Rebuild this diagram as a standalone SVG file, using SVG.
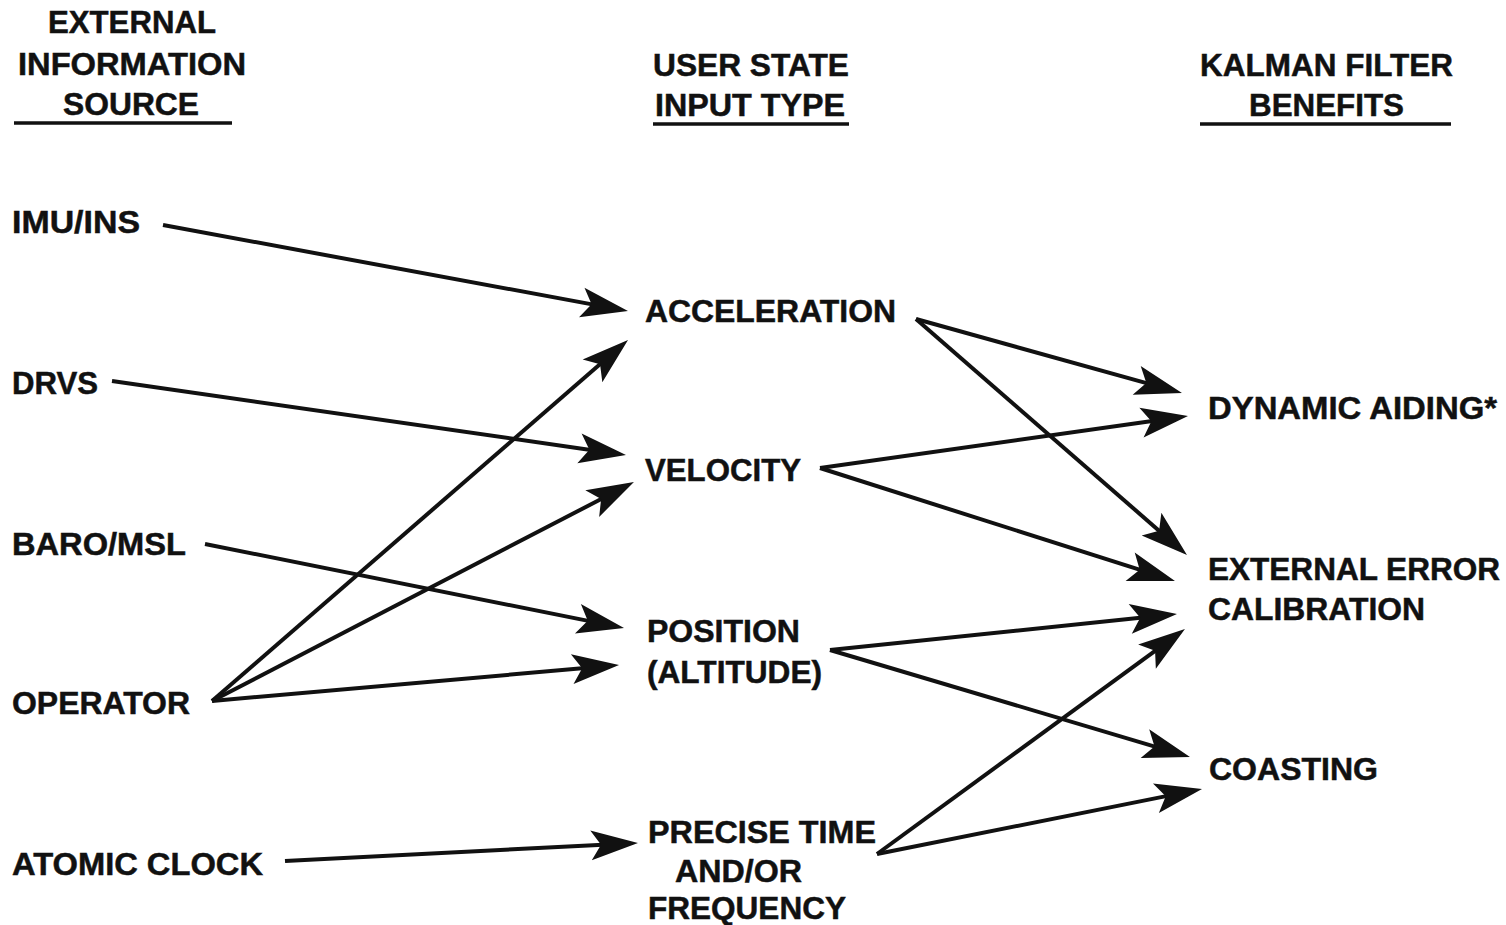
<svg xmlns="http://www.w3.org/2000/svg" width="1506" height="925" viewBox="0 0 1506 925">
<style>
text{font-family:"Liberation Sans",Arial,sans-serif;font-weight:bold;font-size:31.5px;fill:#111;stroke:#111;stroke-width:0.5}
.c{stroke:#111;stroke-width:4;fill:none}
.u{stroke:#111;stroke-width:3.5}
</style>
<defs>
<marker id="ah" markerUnits="userSpaceOnUse" viewBox="-50 -18 52 36" markerWidth="52" markerHeight="36" refX="-20" refY="0" orient="auto">
<path d="M0,0 L-47,-15 L-37,0 L-47,15 Z" fill="#111"/>
</marker>
</defs>
<rect width="1506" height="925" fill="#fff"/>
<g id="headers">
<text x="48" y="33" textLength="168" lengthAdjust="spacingAndGlyphs">EXTERNAL</text>
<text x="18" y="75" textLength="228" lengthAdjust="spacingAndGlyphs">INFORMATION</text>
<text x="63" y="115" textLength="136" lengthAdjust="spacingAndGlyphs">SOURCE</text>
<line class="u" x1="14" y1="123" x2="232" y2="123"/>
<text x="653" y="76" textLength="196" lengthAdjust="spacingAndGlyphs">USER STATE</text>
<text x="655" y="116" textLength="190" lengthAdjust="spacingAndGlyphs">INPUT TYPE</text>
<line class="u" x1="653" y1="124" x2="849" y2="124"/>
<text x="1200" y="76" textLength="253" lengthAdjust="spacingAndGlyphs">KALMAN FILTER</text>
<text x="1249" y="116" textLength="155" lengthAdjust="spacingAndGlyphs">BENEFITS</text>
<line class="u" x1="1200" y1="124" x2="1451" y2="124"/>
</g>
<g id="imu"><text x="12" y="233" textLength="128" lengthAdjust="spacingAndGlyphs">IMU/INS</text></g>
<g id="drvs"><text x="12" y="394" textLength="86" lengthAdjust="spacingAndGlyphs">DRVS</text></g>
<g id="baro"><text x="12" y="555" textLength="174" lengthAdjust="spacingAndGlyphs">BARO/MSL</text></g>
<g id="operator"><text x="12" y="714" textLength="178" lengthAdjust="spacingAndGlyphs">OPERATOR</text></g>
<g id="clock"><text x="12" y="875" textLength="251" lengthAdjust="spacingAndGlyphs">ATOMIC CLOCK</text></g>
<g id="accel"><text x="645" y="322" textLength="251" lengthAdjust="spacingAndGlyphs">ACCELERATION</text></g>
<g id="velocity"><text x="645" y="481" textLength="156" lengthAdjust="spacingAndGlyphs">VELOCITY</text></g>
<g id="position">
<text x="647" y="642" textLength="153" lengthAdjust="spacingAndGlyphs">POSITION</text>
<text x="647" y="683" textLength="175" lengthAdjust="spacingAndGlyphs">(ALTITUDE)</text>
</g>
<g id="time">
<text x="648" y="843" textLength="228" lengthAdjust="spacingAndGlyphs">PRECISE TIME</text>
<text x="675" y="882" textLength="127" lengthAdjust="spacingAndGlyphs">AND/OR</text>
<text x="648" y="919" textLength="198" lengthAdjust="spacingAndGlyphs">FREQUENCY</text>
</g>
<g id="dynamic"><text x="1208" y="419" textLength="289" lengthAdjust="spacingAndGlyphs">DYNAMIC AIDING*</text></g>
<g id="calibration">
<text x="1208" y="580" textLength="292" lengthAdjust="spacingAndGlyphs">EXTERNAL ERROR</text>
<text x="1208" y="620" textLength="217" lengthAdjust="spacingAndGlyphs">CALIBRATION</text>
</g>
<g id="coasting"><text x="1209" y="780" textLength="169" lengthAdjust="spacingAndGlyphs">COASTING</text></g>
<g id="connectors" class="c">
<line x1="163" y1="225" x2="608.3" y2="307.4" marker-end="url(#ah)"/>
<line x1="112" y1="381" x2="606.2" y2="452.2" marker-end="url(#ah)"/>
<line x1="205" y1="544" x2="604.4" y2="624.1" marker-end="url(#ah)"/>
<line x1="212" y1="701" x2="612.9" y2="353.1" marker-end="url(#ah)"/>
<line x1="212" y1="701" x2="616.2" y2="491.2" marker-end="url(#ah)"/>
<line x1="212" y1="701" x2="599.1" y2="666.8" marker-end="url(#ah)"/>
<line x1="285" y1="861" x2="618.0" y2="844.0" marker-end="url(#ah)"/>
<line x1="916" y1="319" x2="1162.7" y2="387.6" marker-end="url(#ah)"/>
<line x1="916" y1="319" x2="1171.9" y2="541.9" marker-end="url(#ah)"/>
<line x1="820" y1="468" x2="1168.2" y2="418.8" marker-end="url(#ah)"/>
<line x1="820" y1="468" x2="1155.9" y2="574.9" marker-end="url(#ah)"/>
<line x1="830" y1="650" x2="1157.1" y2="616.1" marker-end="url(#ah)"/>
<line x1="830" y1="650" x2="1170.8" y2="751.3" marker-end="url(#ah)"/>
<line x1="877" y1="854" x2="1168.8" y2="640.8" marker-end="url(#ah)"/>
<line x1="877" y1="854" x2="1182.4" y2="792.9" marker-end="url(#ah)"/>
</g>
</svg>
